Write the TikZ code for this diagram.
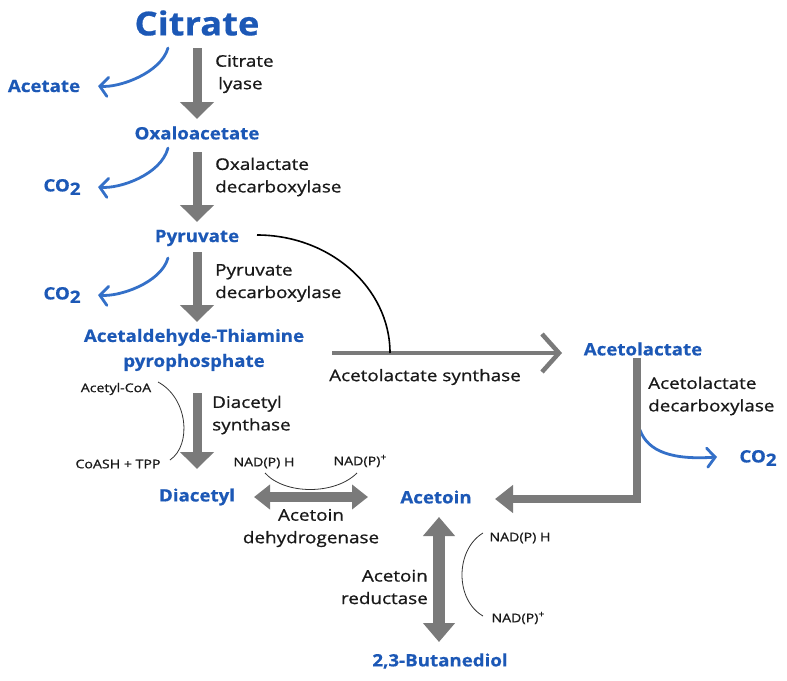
\documentclass[tikz,border=0pt]{standalone}
\usepackage{fontspec}
\setmainfont{Open Sans}[FakeStretch=1.18,FakeBold=0.9]
\newfontfamily\bluefont{Open Sans}[FakeStretch=1.1,FakeBold=0.6]
\usetikzlibrary{arrows.meta,calc}
\definecolor{tblue}{RGB}{28,88,182}
\definecolor{cblue}{RGB}{52,112,200}
\definecolor{agrey}{RGB}{122,122,122}
\begin{document}
\begin{tikzpicture}[x=1pt,y=-1pt,
  mol/.style={text=tblue, font=\bluefont\bfseries\fontsize{17}{25}\selectfont, inner sep=0pt, align=center},
  enz/.style={text=black!90, font=\fontsize{16}{22.5}\selectfont, inner sep=0pt},
  small/.style={text=black!90, font=\fontsize{12}{14}\selectfont, inner sep=0pt},
  fat/.style={draw=agrey, line width=9pt, -{Triangle[width=33pt,length=17pt]}},
  fatboth/.style={draw=agrey, line width=10pt, {Triangle[width=24pt,length=16pt]}-{Triangle[width=24pt,length=16pt]}},
  fatvert/.style={draw=agrey, line width=12pt, {Triangle[width=31pt,length=19pt]}-{Triangle[width=31pt,length=19pt]}},
  bluecurve/.style={draw=cblue, line width=2.8pt, line cap=round, -{Straight Barb[length=8pt,width=19pt,line cap=round]}},
  cof/.style={draw=black!80, line width=0.8pt},
]
\useasboundingbox (0,0) rectangle (787,680);

% molecules
\node[mol, font=\bluefont\bfseries\fontsize{33}{36}\selectfont] (cit) at (197,23) {Citrate};
\node[mol] (acetate) at (44,86) {Acetate};
\node[mol] (oxa) at (197,133) {Oxaloacetate};
\node[mol] (co2a) at (62,187) {CO\raisebox{-3.5pt}{2}};
\node[mol] (pyr) at (197,238) {Pyruvate};
\node[mol] (co2b) at (62,295) {CO\raisebox{-3.5pt}{2}};
\node[mol] (atpp) at (194,350) {Acetaldehyde-Thiamine\\pyrophosphate};
\node[mol] (acl) at (643,349) {Acetolactate};
\node[mol] (co2c) at (758,458) {CO\raisebox{-3.5pt}{2}};
\node[mol] (dia) at (197,497) {Diacetyl};
\node[mol] (aco) at (436,497) {Acetoin};
\node[mol] (but) at (440,661) {2,3-Butanediol};

% enzymes
\node[enz, anchor=west, align=left] (e1) at (215,74) {Citrate\\\hspace*{3pt}lyase};
\node[enz, anchor=west, align=left] (e2) at (215,177) {Oxalactate\\decarboxylase};
\node[enz, anchor=west, align=left] (e3) at (215,283) {Pyruvate\\decarboxylase};
\node[enz, anchor=west, align=left] (e4) at (212,415) {Diacetyl\\synthase};
\node[enz, anchor=west] (e5) at (329,377) {Acetolactate synthase};
\node[enz, anchor=west, align=left] (e6) at (648,396) {Acetolactate\\decarboxylase};
\node[enz, align=center] (e7) at (311,528) {Acetoin\\dehydrogenase};
\node[enz, anchor=east, align=right] (e8) at (428,587) {Acetoin\\reductase};

% cofactors
\node[small] (acoa) at (116,389) {Acetyl-CoA};
\node[small] (coash) at (118,464) {CoASH + TPP};
\node[small] (nadh1) at (264,463) {NAD(P) H};
\node[small] (nadp1) at (360,461) {NAD(P)\raisebox{5pt}{\fontsize{9}{9}\selectfont+}};
\node[small] (nadh2) at (520,538) {NAD(P) H};
\node[small] (nadp2) at (518,618) {NAD(P)\raisebox{5pt}{\fontsize{9}{9}\selectfont+}};

% main grey arrows
\draw[fat] ($(cit)+(0,25)$) -- ($(oxa)+(0,-14)$);
\draw[fat] ($(oxa)+(0,19)$) -- ($(pyr)+(0,-16)$);
\draw[fat] ($(pyr)+(0,14)$) -- ($(atpp)+(3,-28)$);
\draw[fat] ($(atpp)+(3,43)$) -- ($(dia)+(0,-28)$);

% blue side arrows
\draw[bluecurve] ($(cit)+(-29,25)$) .. controls ($(cit)+(-36,50)$) and ($(acetate)+(75,2)$) .. ($(acetate)+(54,0)$);
\draw[bluecurve] ($(oxa)+(-29,15)$) .. controls ($(oxa)+(-36,42)$) and ($(co2a)+(57,2)$) .. ($(co2a)+(36,0)$);
\draw[bluecurve] ($(pyr)+(-29,20)$) .. controls ($(pyr)+(-36,45)$) and ($(co2b)+(57,2)$) .. ($(co2b)+(36,0)$);
\coordinate (dc) at ($(acl)+(-3,81)$);
\draw[bluecurve] (dc) .. controls ($(dc)+(8,22)$) and ($(co2c)+(-85,2)$) .. ($(co2c)+(-41,-1)$);

% acetolactate synthase branch
\coordinate (j) at ($(atpp)+(196,3)$);
\draw[draw=agrey, line width=4.5pt, -{Straight Barb[length=17pt,width=38pt]}] ($(atpp)+(138,3)$) -- ($(acl)+(-81,4)$);
\draw[black, line width=1.6pt] ($(pyr)+(60,-3)$) .. controls ($(pyr)+(133,-3)$) and ($(j)+(0,-65)$) .. (j);

% acetolactate decarboxylase L-arrow
\draw[draw=agrey, line width=8pt, line join=miter, -{Triangle[width=27pt,length=18pt]}] ($(acl)+(-6,9)$) |- ($(aco)+(59,2)$);

% reversible arrows
\draw[fatboth] ($(dia)+(57,0)$) -- ($(aco)+(-68,0)$);
\draw[fatvert] ($(aco)+(3,20)$) -- ($(but)+(-1,-19)$);

% cofactor arcs
\draw[cof] ($(acoa)+(42,-7)$) .. controls ($(acoa)+(72,9)$) and ($(coash)+(74,-19)$) .. ($(coash)+(52,-4)$);
\draw[cof] ($(nadh1)+(1,10)$) .. controls ($(nadh1)+(21,32)$) and ($(nadp1)+(-25,34)$) .. ($(nadp1)+(-3,12)$);
\draw[cof] ($(nadh2)+(-37,-5)$) .. controls ($(nadh2)+(-65,12)$) and ($(nadp2)+(-63,-18)$) .. ($(nadp2)+(-35,-2)$);
\end{tikzpicture}
\end{document}
